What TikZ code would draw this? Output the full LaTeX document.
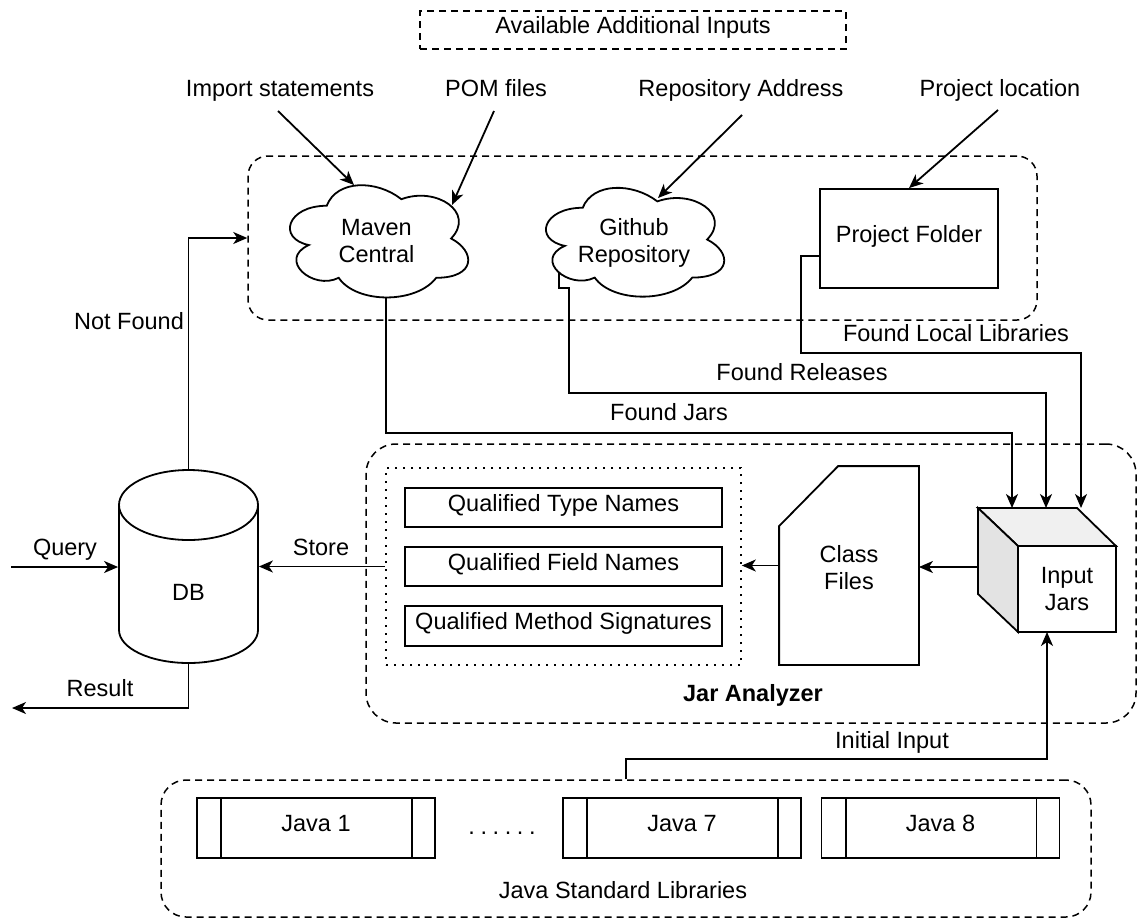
\documentclass[tikz,border=0pt]{standalone}
\usepackage{fontspec}
\setmainfont{Liberation Sans}
\usetikzlibrary{arrows.meta,calc}
\newcommand\drawiocloud{(0.25,0.25) .. controls (0.05,0.25) and (0,0.5) .. (0.16,0.55) .. controls (0,0.66) and (0.18,0.9) .. (0.31,0.8) .. controls (0.4,1) and (0.7,1) .. (0.8,0.8) .. controls (1,0.8) and (1,0.6) .. (0.875,0.5) .. controls (1,0.3) and (0.8,0.1) .. (0.625,0.2) .. controls (0.5,0.05) and (0.3,0.05) .. (0.25,0.25) -- cycle}
\begin{document}
\begin{tikzpicture}[x=1pt,y=-1pt,
  font=\fontsize{23.5}{27}\selectfont,
  line width=1.8pt,
  arr/.style={-{Stealth[length=14pt,width=12pt,inset=4pt]}},
  lbl/.style={inner sep=0pt, text height=0.72em, text depth=0pt},
  box/.style={draw, fill=white, inner sep=0pt, text height=0.72em, text depth=0pt},
  grp/.style={draw, line width=1.5pt, dash pattern=on 7pt off 5pt, inner sep=0pt},
  dotbox/.style={draw, line width=1.6pt, dash pattern=on 1.6pt off 6.4pt, inner sep=0pt},
  proc/.style={draw, fill=white, inner sep=0pt, minimum width=238, minimum height=60, text height=0.72em, text depth=0pt}
]
\useasboundingbox (0,0) rectangle (1137,919);

% ---- header
\node[grp, minimum width=426, minimum height=38, text height=0.72em, text depth=0pt] (avail) at (633,30) {Available Additional Inputs};

% ---- additional inputs group
\node[grp, rounded corners=20pt, minimum width=789, minimum height=164] (topgrp) at (642.5,238) {};

\begin{scope}[shift={(277,173)}, x=199pt, y=-131pt]
  \draw[fill=white] \drawiocloud;
\end{scope}
\begin{scope}[shift={(533,176)}, x=199pt, y=-127pt]
  \draw[fill=white] \drawiocloud;
\end{scope}
\node[align=center] (maven) at (376.5,241) {Maven\\Central};
\node[align=center] (github) at (634,243) {Github\\Repository};
\node[box, minimum width=178, minimum height=99] (pf) at (909,238.5) {Project Folder};

\node[lbl] (imp) at (280,93) {Import statements};
\node[lbl] (pom) at (496,93) {POM files};
\node[lbl] (repo) at (741,93) {Repository Address};
\node[lbl] (ploc) at (1000,93) {Project location};

\coordinate (impS) at (278,111);
\coordinate (pomS) at (494,111);
\coordinate (repoS) at (742,115);
\coordinate (plocS) at (998,110);
\coordinate (mavenT1) at (354,185);
\coordinate (mavenT2) at (452,205);
\coordinate (githubT) at (658,198);
\draw[arr] (impS) -- (mavenT1);
\draw[arr] (pomS) -- (mavenT2);
\draw[arr] (repoS) -- (githubT);
\draw[arr] (plocS) -- (pf.north);

% ---- jar analyzer group
\node[grp, rounded corners=30pt, minimum width=770, minimum height=279] (jargrp) at (751,583.5) {};
\node[font=\fontsize{23.5}{27}\selectfont\bfseries, lbl] (jarlbl) at (753,698) {Jar Analyzer};

\node[dotbox, minimum width=355, minimum height=197] (dots) at (563.5,566.5) {};
\node[box, minimum width=317, minimum height=39] (qt) at (563.5,507.5) {Qualified Type Names};
\node[box, minimum width=317, minimum height=39] (qf) at (563.5,566.5) {Qualified Field Names};
\node[box, minimum width=317, minimum height=40] (qm) at (563.5,626) {Qualified Method Signatures};

% class files (card shape)
\node[minimum width=138, minimum height=197, inner sep=0pt] (cls) at (849,565.5) {};
\draw[fill=white] (cls.north east) -- (cls.south east) -- (cls.south west)
  -- ($(cls.north west)+(0,60)$) -- ($(cls.north west)+(59,0)$) -- cycle;
\node[align=center] (clstxt) at (849,568) {Class\\Files};

% cube
\draw[fill=black!6] (978,508) -- (1077,508) -- (1116,546) -- (1018,546) -- cycle;
\draw[fill=black!11] (978,508) -- (1018,546) -- (1018,632) -- (978,594) -- cycle;
\node[draw, fill=white, minimum width=98, minimum height=86, inner sep=0pt, align=center] (ij) at (1067,589) {Input\\Jars};

% ---- DB cylinder
\node[minimum width=139, minimum height=193, inner sep=0pt] (db) at (188.5,566.5) {};
\draw[fill=white] (119,505) -- (119,630) arc[start angle=180, end angle=360, x radius=69.5pt, y radius=33pt] -- (258,505) -- cycle;
\draw[fill=white] (188.5,505) ellipse[x radius=69.5pt, y radius=35pt];
\node[lbl] (dbtxt) at (188.5,597) {DB};

% ---- Java standard libraries
\node[grp, rounded corners=25pt, minimum width=930, minimum height=137] (jsl) at (626,848.5) {};
\node[lbl] (jsllbl) at (623,895) {Java Standard Libraries};
\node[proc] (j1) at (316,828) {Java 1};
\node[proc] (j7) at (682,828) {Java 7};
\node[proc] (j8) at (940.5,828) {Java 8};
\foreach \n in {j1,j7,j8}{
  \draw ($(\n.north west)+(25,0)$) -- ($(\n.south west)+(25,0)$);
  \draw ($(\n.north east)+(-24,0)$) -- ($(\n.south east)+(-24,0)$);
}
\node[inner sep=0pt] (ell) at (502,833) {.\kern5.6pt.\kern5.6pt.\kern5.6pt.\kern5.6pt.\kern5.6pt.};

% ---- connectors
\coordinate (mavenB) at (386,297);
\coordinate (ghB) at (559,273);
\coordinate (pfOut) at (820,256);
\coordinate (jT1) at (1012,508);
\coordinate (jT2) at (1046,508);
\coordinate (jT3) at (1081,508);
\coordinate (ijB) at (1047,632);
\coordinate (cubeL) at (978,567);
\coordinate (qin) at (11,567);
\coordinate (rout) at (12,708);

\draw[arr] (mavenB) -- (386,433) -- (1012,433) -- (jT1);
\node[lbl] (fjl) at (669,417) {Found Jars};
\draw[arr] (ghB) -- (559,288) -- (569,288) -- (569,393) -- (1046,393) -- (jT2);
\node[lbl] (frl) at (802,377) {Found Releases};
\draw[arr] (pfOut) -- (801,256) -- (801,353) -- (1081,353) -- (jT3);
\node[lbl] (fll) at (956,338) {Found Local Libraries};

\draw[arr] (jsl.north) -- (626,759) -- (1047,759) -- (ijB);
\node[lbl] (iil) at (892,745) {Initial Input};

\draw[arr] (cubeL) -- (cubeL -| cls.east);
\draw[arr] (cls.west) -- (cls.west -| dots.east);
\draw[arr] (dots.west) -- (dots.west -| db.east);
\node[lbl] (storel) at (321,552) {Store};

\draw[arr] (qin) -- (qin -| db.west);
\node[lbl] (ql) at (65,552) {Query};
\draw[arr] (db.south) |- (rout);
\node[lbl] (rl) at (100,693) {Result};
\draw[arr] (db.north) |- (topgrp.west);
\node[lbl] (nfl) at (129,326) {Not Found};
\end{tikzpicture}
\end{document}
